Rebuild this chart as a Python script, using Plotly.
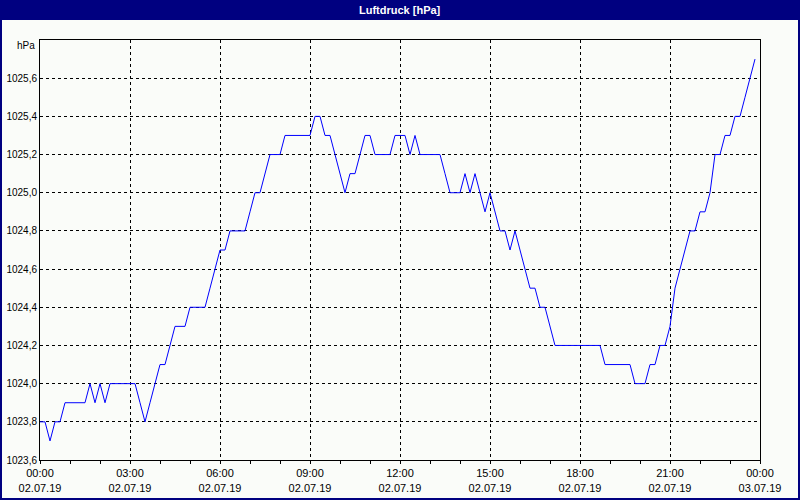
import pandas as pd
import plotly.graph_objects as go

# 10-minute readings, 02.07.19 00:00 .. 23:50
START = "2019-07-02 00:00"
END = "2019-07-03 00:00"
PRESSURE = [
    1023.8, 1023.8, 1023.7, 1023.8, 1023.8, 1023.9, 1023.9, 1023.9, 1023.9, 1023.9,
    1024.0, 1023.9, 1024.0, 1023.9, 1024.0, 1024.0, 1024.0, 1024.0, 1024.0, 1024.0,
    1023.9, 1023.8, 1023.9, 1024.0, 1024.1, 1024.1, 1024.2, 1024.3, 1024.3, 1024.3,
    1024.4, 1024.4, 1024.4, 1024.4, 1024.5, 1024.6, 1024.7, 1024.7, 1024.8, 1024.8,
    1024.8, 1024.8, 1024.9, 1025.0, 1025.0, 1025.1, 1025.2, 1025.2, 1025.2, 1025.3,
    1025.3, 1025.3, 1025.3, 1025.3, 1025.3, 1025.4, 1025.4, 1025.3, 1025.3, 1025.2,
    1025.1, 1025.0, 1025.1, 1025.1, 1025.2, 1025.3, 1025.3, 1025.2, 1025.2, 1025.2,
    1025.2, 1025.3, 1025.3, 1025.3, 1025.2, 1025.3, 1025.2, 1025.2, 1025.2, 1025.2,
    1025.2, 1025.1, 1025.0, 1025.0, 1025.0, 1025.1, 1025.0, 1025.1, 1025.0, 1024.9,
    1025.0, 1024.9, 1024.8, 1024.8, 1024.7, 1024.8, 1024.7, 1024.6, 1024.5, 1024.5,
    1024.4, 1024.4, 1024.3, 1024.2, 1024.2, 1024.2, 1024.2, 1024.2, 1024.2, 1024.2,
    1024.2, 1024.2, 1024.2, 1024.1, 1024.1, 1024.1, 1024.1, 1024.1, 1024.1, 1024.0,
    1024.0, 1024.0, 1024.1, 1024.1, 1024.2, 1024.2, 1024.3, 1024.5, 1024.6, 1024.7,
    1024.8, 1024.8, 1024.9, 1024.9, 1025.0, 1025.2, 1025.2, 1025.3, 1025.3, 1025.4,
    1025.4, 1025.5, 1025.6, 1025.7,
]
Y_TICKS = [1023.6, 1023.8, 1024.0, 1024.2, 1024.4, 1024.6, 1024.8, 1025.0, 1025.2, 1025.4, 1025.6]
TITLE = "Luftdruck [hPa]"
UNIT = "hPa"

times = pd.date_range(START, periods=len(PRESSURE), freq="10min")

BG = "#FAFCF9"
NAVY = "#000080"
FONT = "Liberation Sans, Arial, sans-serif"

# plot area in pixels: x 40..760, y 40..460
PW, PH = 720, 420

fig = go.Figure(go.Scatter(
    x=times,
    y=PRESSURE,
    mode="lines",
    line=dict(color="#0000FF", width=1),
    hoverinfo="skip",
))

# title bar and window frame
fig.add_shape(type="rect", xref="paper", yref="paper",
              x0=-40 / PW, x1=1 + 40 / PW, y0=1 + 20 / PH, y1=1 + 40 / PH,
              fillcolor=NAVY, line=dict(width=0), layer="above")
fig.add_shape(type="rect", xref="paper", yref="paper",
              x0=-40 / PW, x1=1 + 40 / PW, y0=-40 / PH, y1=1 + 40 / PH,
              line=dict(color=NAVY, width=4), layer="above")
fig.add_annotation(text="<b>" + TITLE + "</b>", xref="paper", yref="paper",
                   x=0.5, y=1 + 30 / PH, xanchor="center", yanchor="middle",
                   showarrow=False,
                   font=dict(color="white", size=11, family=FONT))
fig.add_annotation(text=UNIT, xref="paper", yref="paper",
                   x=0, y=1, xanchor="right", yanchor="middle",
                   xshift=-3, yshift=-5, showarrow=False,
                   font=dict(color="black", size=10, family=FONT))

fig.update_layout(
    width=800,
    height=500,
    margin=dict(l=40, r=40, t=40, b=40),
    paper_bgcolor=BG,
    plot_bgcolor=BG,
    showlegend=False,
    separators=",.",
    font=dict(family=FONT, size=10, color="black"),
    xaxis=dict(
        range=[START, END],
        tick0=START,
        dtick=3 * 3600 * 1000,
        tickformat="%H:%M<br>%d.%m.%y",
        tickfont=dict(size=11),
        ticks="outside",
        ticklen=3,
        tickcolor="black",
        minor=dict(dtick=3600 * 1000, ticks="outside", ticklen=3,
                   tickcolor="black", showgrid=False),
        showgrid=True,
        gridcolor="black",
        gridwidth=1,
        griddash="3px,3px",
        showline=True,
        linecolor="black",
        linewidth=1,
        mirror=True,
        zeroline=False,
        automargin=False,
        fixedrange=True,
    ),
    yaxis=dict(
        range=[1023.6, 1025.8],
        tickmode="array",
        tickvals=Y_TICKS,
        tickformat=".1f",
        ticks="",
        showgrid=True,
        gridcolor="black",
        gridwidth=1,
        griddash="3px,3px",
        showline=True,
        linecolor="black",
        linewidth=1,
        mirror=True,
        zeroline=False,
        automargin=False,
        fixedrange=True,
    ),
)

fig.write_html("out.html", config={"displayModeBar": False},
               post_script="document.body.style.margin='0';")
